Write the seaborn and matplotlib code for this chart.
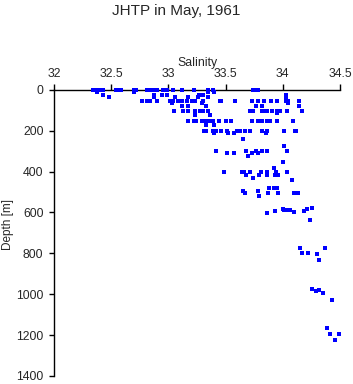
import seaborn as sns
import matplotlib.pyplot as plt
import matplotlib.ticker as mticker
import pandas as pd

# salinity / depth pairs
salinity = [
    # ~0 m
    32.34, 32.38, 32.41, 32.43, 32.54, 32.56, 32.59, 32.70, 32.72, 32.81, 32.85, 32.87,
    32.90, 32.95, 32.97, 32.99, 33.04, 33.12, 33.22, 33.35, 33.39, 33.74, 33.76, 33.78,
    # ~10 m
    32.38, 32.70, 33.35, 33.40,
    # ~25-35 m
    32.43, 32.87, 32.94, 32.99, 33.27, 33.30, 34.03,
    32.48, 32.87, 33.06, 33.17, 33.26, 33.35, 34.03,
    # ~50-60 m
    32.77, 32.81, 32.84, 32.90, 33.01, 33.04, 33.08, 33.12, 33.16, 33.21, 33.23, 33.30,
    33.45, 33.46, 33.58, 33.73, 33.78, 33.84, 33.90, 33.95, 34.03, 34.05, 34.14,
    33.03, 33.29, 34.05,
    # ~75 m
    33.12, 33.17, 33.33, 33.77, 33.82, 34.14,
    # ~100 m
    33.05, 33.13, 33.17, 33.23, 33.28, 33.30, 33.35, 33.71, 33.74, 33.82, 33.84, 33.86,
    33.91, 33.95, 33.98, 34.04, 34.17,
    33.95, 33.23, 33.36,
    # ~150 m
    33.17, 33.22, 33.24, 33.29, 33.31, 33.33, 33.36, 33.39, 33.44, 33.50, 33.55, 33.73,
    33.78, 33.80, 33.82, 33.86, 33.89, 33.95, 34.09,
    33.33, 33.40,
    # ~200 m
    33.31, 33.33, 33.39, 33.42, 33.46, 33.51, 33.60, 33.63, 33.67, 33.71, 33.82, 33.86,
    34.01, 34.11, 34.12,
    33.40, 33.52, 33.57, 33.85,
    33.65, 34.01,
    # ~300 m
    33.42, 33.68, 33.77, 33.82, 33.86, 34.04,
    33.51, 33.57, 33.73, 33.78, 33.70,
    34.00, 33.92,
    # ~400 m
    33.49, 33.64, 33.66, 33.71, 33.81, 33.86, 33.94, 34.04,
    33.68, 33.79, 33.86, 33.93, 33.96,
    33.74, 34.08,
    # ~500 m
    33.88, 33.92, 33.95, 33.65, 33.78,
    33.67, 33.87, 33.96, 34.10, 34.13, 33.79,
    # ~600 m
    33.86, 33.93, 34.00, 34.01, 34.03, 34.06, 34.10, 34.19, 34.21, 34.26, 34.24,
    # ~800 m
    34.15, 34.37, 34.17, 34.22, 34.30, 34.32,
    # ~1000 m
    34.26, 34.29, 34.32, 34.35, 34.43,
    # ~1200 m
    34.39, 34.41, 34.49, 34.46,
]

depth = (
    [0] * 24
    + [10] * 4
    + [24] * 7
    + [33] * 7
    + [54] * 23
    + [62] * 3
    + [77] * 6
    + [104] * 17
    + [115, 122, 122]
    + [153] * 19
    + [171] * 2
    + [199] * 15
    + [212] * 4
    + [241, 274]
    + [298] * 6
    + [310] * 4 + [323]
    + [354, 383]
    + [403] * 8
    + [416] * 5
    + [431, 442]
    + [481, 481, 481, 494, 494]
    + [506] * 5 + [519]
    + [602, 595, 585, 590, 590, 590, 600, 595, 585, 580, 638]
    + [775, 775, 800, 800, 805, 832]
    + [975, 985, 980, 995, 1028]
    + [1167, 1196, 1196, 1224]
)

sal_ticks = [32, 32.5, 33, 33.5, 34, 34.5]
depth_ticks = [0, 200, 400, 600, 800, 1000, 1200, 1400]

df = pd.DataFrame({"Salinity": salinity, "Depth": depth})

sns.set_style("white")
plt.rcParams["font.family"] = ["Liberation Sans", "DejaVu Sans"]

fig = plt.figure(figsize=(3.53, 3.84), dpi=100)
ax = fig.add_axes([0.153, 0.021, 0.81, 0.745])

sns.scatterplot(data=df, x="Salinity", y="Depth", ax=ax, marker="s",
                s=5.5, color="#0000ff", linewidth=0, legend=False,
                clip_on=False, zorder=5)

ax.set_xlim(32, 34.5)
ax.set_ylim(1400, 0)
ax.set_xticks(sal_ticks)
ax.set_yticks(depth_ticks)
ax.xaxis.set_major_formatter(mticker.FuncFormatter(lambda v, p: "%g" % v))

ax.xaxis.tick_top()
ax.xaxis.set_label_position("top")
for side in ["right", "bottom"]:
    ax.spines[side].set_visible(False)
for side in ["top", "left"]:
    ax.spines[side].set_color("black")
    ax.spines[side].set_linewidth(1)

ax.tick_params(axis="both", direction="out", width=1, color="black", labelsize=8.8)
ax.tick_params(axis="x", top=True, bottom=False, length=4, pad=3)
ax.tick_params(axis="y", left=True, length=3.3, pad=4.3)

ax.set_xlabel("Salinity", fontsize=8.8)
ax.set_ylabel("Depth [m]", fontsize=8.5)
ax.xaxis.set_label_coords(0.5, 1.084)
ax.yaxis.set_label_coords(-0.14, 0.53)
fig.suptitle("JHTP in May, 1961", fontsize=11, y=0.99)

fig.savefig("out.png", dpi=100)
